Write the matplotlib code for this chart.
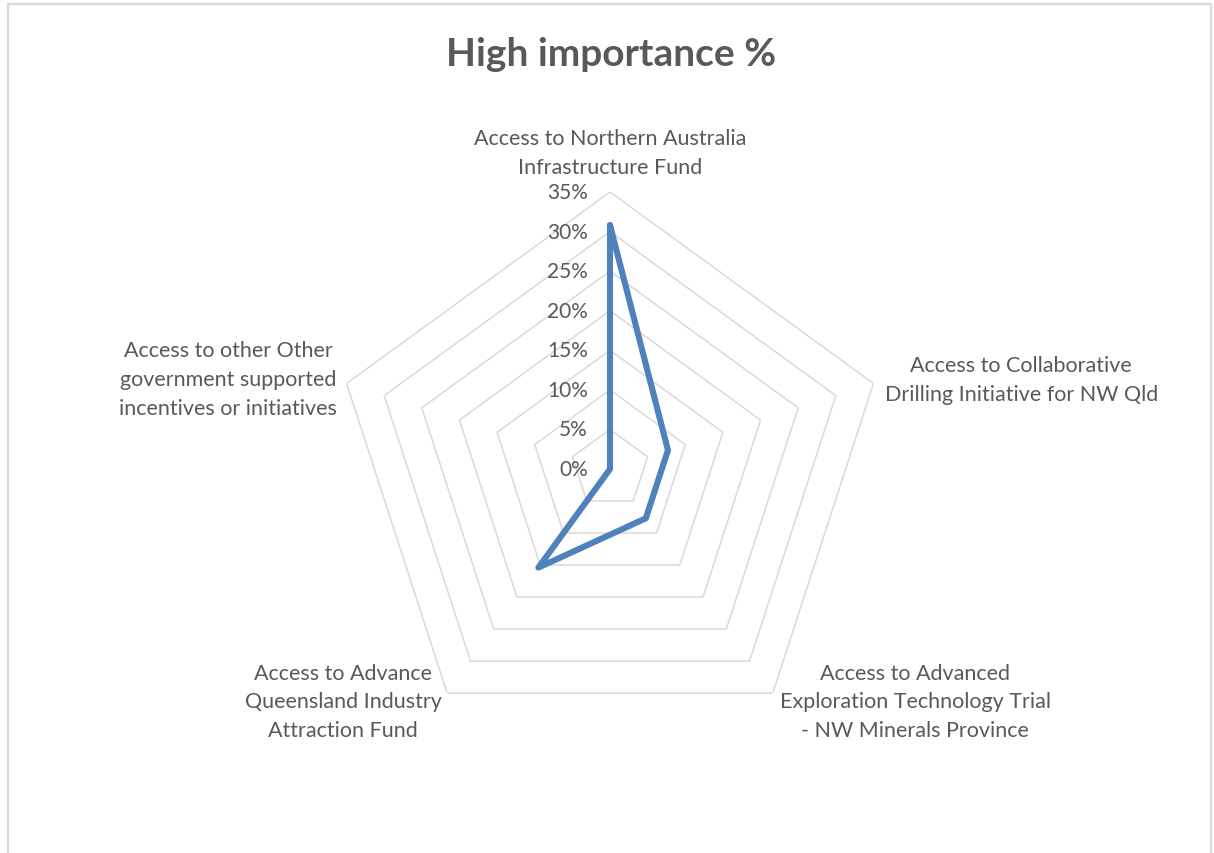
import numpy as np
import matplotlib
matplotlib.use('Agg')
import matplotlib.pyplot as plt
from matplotlib.patches import Rectangle

# ── Data ─────────────────────────────────────────────────────
categories = [
    'Access to Northern Australia\nInfrastructure Fund',
    'Access to Collaborative\nDrilling Initiative for NW Qld',
    'Access to Advanced\nExploration Technology Trial\n- NW Minerals Province',
    'Access to Advance\nQueensland Industry\nAttraction Fund',
    'Access to other Other\ngovernment supported\nincentives or initiatives',
]
high_pct   = [30.8, 7.7, 7.7, 15.4, 0.0]
ring_ticks = [0, 5, 10, 15, 20, 25, 30, 35]
tick_text  = ['0%', '5%', '10%', '15%', '20%', '25%', '30%', '35%']

# ── Style ────────────────────────────────────────────────────
plt.rcParams['font.family'] = ['Lato', 'DejaVu Sans']
TEXT_GREY = '#595959'
GRID_GREY = '#D9D9D9'
LINE_BLUE = '#4F81BD'

W, H, DPI = 1214, 854, 100
fig = plt.figure(figsize=(W / DPI, H / DPI), dpi=DPI)

# chart frame (light grey border, bottom runs off the image)
fig.patches.append(Rectangle((8 / W, -0.05), (1211 - 8) / W, (H - 5) / H + 0.05,
                             transform=fig.transFigure, fill=False,
                             edgecolor=GRID_GREY, linewidth=1.6))

fig.text(611 / W, 1 - 55 / H, 'High importance %', ha='center', va='center',
         fontsize=28, fontweight='bold', color=TEXT_GREY)

# polar axes: centre (610, 470) px, radius 277 px
cx, cy, R = 610, 470, 277
ax = fig.add_axes([(cx - R) / W, (H - cy - R) / H, 2 * R / W, 2 * R / H],
                  projection='polar')
ax.set_theta_zero_location('N')
ax.set_theta_direction(-1)
ax.set_ylim(0, ring_ticks[-1])
ax.grid(False)
ax.set_xticks([])
ax.set_yticks([])
ax.spines['polar'].set_visible(False)
ax.patch.set_visible(False)

n = len(categories)
angles = np.linspace(0, 2 * np.pi, n, endpoint=False)
closed = np.append(angles, angles[0])

# pentagon gridlines
for t in ring_ticks[1:]:
    ax.plot(closed, [t] * (n + 1), color=GRID_GREY, linewidth=1.1, zorder=1)

# radial tick labels, to the left of the top spoke
for t, s in zip(ring_ticks, tick_text):
    ax.annotate(s, xy=(0, t), xytext=(-16, 0), textcoords='offset points',
                ha='right', va='center', fontsize=15, color=TEXT_GREY)

# series
vals = high_pct + [high_pct[0]]
ax.plot(closed, vals, color=LINE_BLUE, linewidth=4.4,
        solid_joinstyle='round', solid_capstyle='round', zorder=3)

# category labels around the outer ring
label_pos = [
    ('center', 'bottom', 0, 11),
    ('left', 'center', 8, 3),
    ('left', 'center', 5, -6),
    ('right', 'center', -4, -6),
    ('right', 'center', -7, 3),
]
for a, lab, (ha, va, dx, dy) in zip(angles, categories, label_pos):
    ax.annotate(lab, xy=(a, ring_ticks[-1]), xytext=(dx, dy),
                textcoords='offset points', ha=ha, va=va,
                multialignment='center', fontsize=15.5, color=TEXT_GREY,
                linespacing=1.55, annotation_clip=False)

fig.savefig('out.png', dpi=DPI, facecolor='white')
